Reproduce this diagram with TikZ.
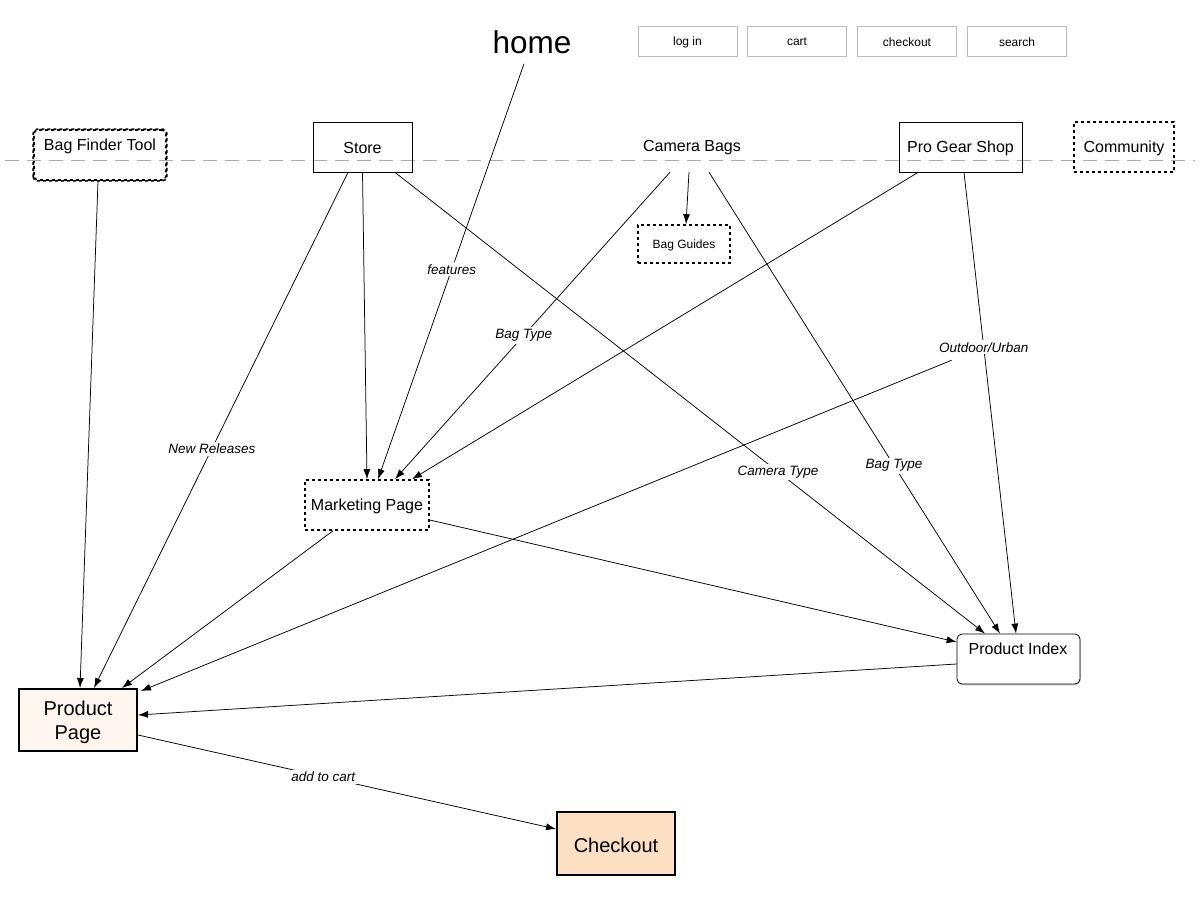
\documentclass[tikz,border=0pt]{standalone}
\usepackage{fontspec}
\setmainfont{Liberation Sans}
\usetikzlibrary{arrows.meta,shadows}
\definecolor{btngray}{HTML}{BBBBBB}
\definecolor{sepgray}{HTML}{AAAAAA}
\definecolor{ppfill}{HTML}{FEF6EF}
\definecolor{cofill}{HTML}{FDDFC3}
\tikzset{
  boxnode/.style={draw, line width=0.8pt, inner sep=0pt, font=\fontsize{16}{18}\selectfont},
  dotbox/.style={draw, line width=1.6pt, dash pattern=on 3pt off 3pt, inner sep=0pt},
  btn/.style={draw=btngray, line width=0.8pt, minimum width=99pt, minimum height=30pt, inner sep=0pt},
  btntxt/.style={inner sep=0pt, font=\fontsize{12}{14}\selectfont},
  bigbox/.style={draw, line width=2pt, minimum width=118pt, inner sep=0pt, align=center, font=\fontsize{20}{24}\selectfont},
  txt/.style={inner sep=0pt, font=\fontsize{16}{18}\selectfont},
  lbl/.style={fill=white, inner sep=2pt, font=\fontsize{13.5}{16}\selectfont\itshape},
  edge/.style={line width=0.75pt, -{Latex[length=10pt,width=7pt]}},
}
\begin{document}
\begin{tikzpicture}[x=1pt, y=-1pt]
\useasboundingbox (0,0) rectangle (1200,900);
% bag finder box (with shadow) first, so the separator shows through it
\node[dotbox, fill=white, rounded corners=4pt, minimum width=132pt, minimum height=50pt,
      drop shadow={opacity=0.25, shadow xshift=0.8pt, shadow yshift=-1.2pt}] (bft) at (100,155) {};
% separator
\draw[sepgray, line width=0.8pt, dash pattern=on 14pt off 8pt] (5,160) -- (1195,160);
\draw[dotbox, rounded corners=4pt] (bft.south west) rectangle (bft.north east);
% top
\node[inner sep=0pt, font=\fontsize{31.5}{36}\selectfont] (home) at (532,42) {home};
\node[btn] (login) at (687.5,41) {};
\node[btntxt] (logint) at (687.5,42) {log in};
\node[btn] (cart) at (797,41) {};
\node[btntxt] (cartt) at (797,42) {cart};
\node[btn] (chk) at (907,41) {};
\node[btntxt] (chkt) at (907,42) {checkout};
\node[btn] (search) at (1017,41) {};
\node[btntxt] (searcht) at (1017,42) {search};
% main row
\node[txt] (bftt) at (100,146) {Bag Finder Tool};
\node[boxnode, minimum width=99pt, minimum height=50pt] (store) at (362.5,147) {};
\node[txt] (storet) at (362.5,148) {Store};
\node[minimum width=100pt, minimum height=50pt, inner sep=0pt] (cb) at (692,147) {};
\node[txt] (cbt) at (692,148) {Camera Bags};
\node[boxnode, minimum width=123pt, minimum height=50pt] (pgs) at (960.5,147) {};
\node[txt] (pgst) at (960.5,148) {Pro Gear Shop};
\node[dotbox, minimum width=100pt, minimum height=50pt] (comm) at (1124,147) {};
\node[txt] (commt) at (1124,148) {Community};
\node[dotbox, minimum width=92pt, minimum height=38pt] (bg) at (684,244) {};
\node[btntxt] (bgt) at (684,245) {Bag Guides};
\node[dotbox, minimum width=124pt, minimum height=50pt] (mkt) at (367,505) {};
\node[txt] (mktt) at (367,506) {Marketing Page};
\node[draw, fill=white, line width=0.8pt, rounded corners=5pt, minimum width=123pt, minimum height=50pt, inner sep=0pt,
      drop shadow={opacity=0.35, shadow xshift=0.8pt, shadow yshift=-1.5pt}] (pi) at (1018.5,659) {};
\node[txt] (pit) at (1018,649) {Product Index};
\node[bigbox, fill=ppfill, minimum height=62pt] (pp) at (78,720) {};
\node[inner sep=0pt, align=center, font=\fontsize{20}{24}\selectfont] (ppt) at (78,722) {Product\\Page};
\node[bigbox, fill=cofill, minimum height=63pt] (co) at (616,843.5) {};
\node[inner sep=0pt, font=\fontsize{20}{24}\selectfont] (cot) at (616,845) {Checkout};
% edges
\draw[edge] ([xshift=-2pt]bft.south) -- ([xshift=2pt]pp.north);
\draw[edge] ([xshift=-14.5pt]store.south) -- node[lbl, pos=0.536] (nr) {New Releases} ([xshift=16pt]pp.north);
\draw[edge] (store.south) -- (mkt.north);
\draw[edge] ([xshift=32.5pt]store.south) -- node[lbl, pos=0.649] (ct) {Camera Type} ([xshift=-33.5pt]pi.north);
\draw[edge] ([xshift=-8pt,yshift=-10pt]home.south) -- node[lbl, pos=0.495] (ft) {features} ([xshift=11pt]mkt.north);
\draw[edge] ([xshift=-22pt]cb.south) -- node[lbl, pos=0.532] (bt1) {Bag Type} ([xshift=28pt]mkt.north);
\draw[edge] ([xshift=-3pt]cb.south) -- ([xshift=2pt]bg.north);
\draw[edge] ([xshift=17pt]cb.south) -- node[lbl, pos=0.636] (bt2) {Bag Type} ([xshift=-18.5pt]pi.north);
\draw[edge] ([xshift=-42.5pt]pgs.south) -- ([xshift=45pt]mkt.north);
\draw[edge] ([xshift=3.5pt]pgs.south) -- node[lbl, pos=0.379] (ou) {Outdoor/Urban} ([xshift=-2.5pt]pi.north);
\draw[edge] ([xshift=-32pt,yshift=-13pt]ou.center) -- ([xshift=3pt,yshift=-3pt]pp.north east);
\draw[edge] ([yshift=-15pt]mkt.east) -- ([yshift=17pt]pi.west);
\draw[edge] ([xshift=-34pt]mkt.south) -- ([xshift=44pt]pp.north);
\draw[edge] ([yshift=-5pt]pi.west) -- ([yshift=5pt]pp.east);
\draw[edge] ([yshift=-15pt]pp.east) -- node[lbl, pos=0.443] (atc) {add to cart} ([yshift=14.5pt]co.west);
\end{tikzpicture}
\end{document}
